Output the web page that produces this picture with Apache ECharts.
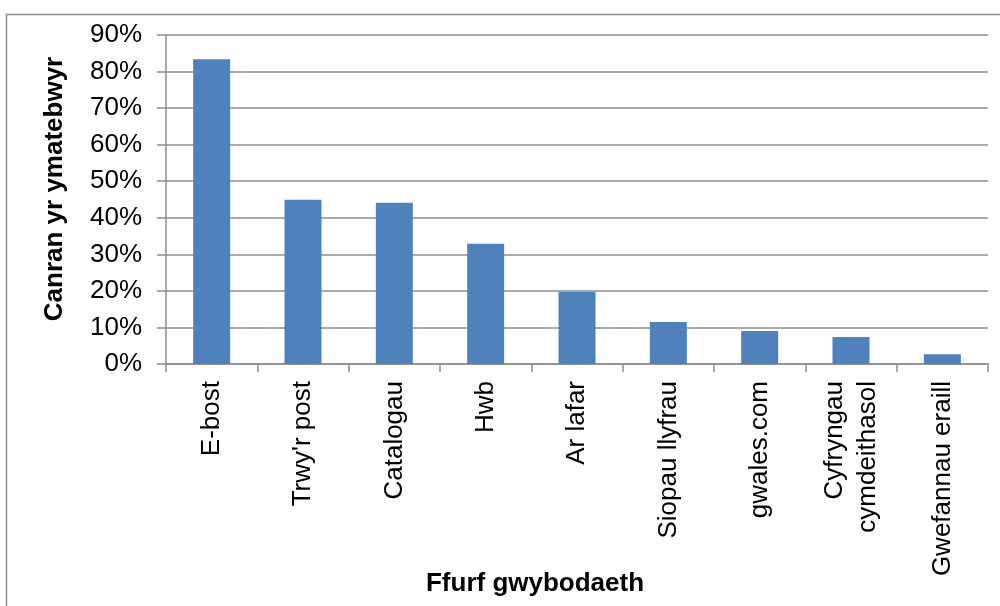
<!DOCTYPE html>
<html>
<head>
<meta charset="utf-8">
<script src="https://cdn.jsdelivr.net/npm/echarts@6/dist/echarts.min.js"></script>
<style>
  html, body { margin: 0; padding: 0; background: #fff; }
  #chart { width: 1000px; height: 606px; }
</style>
</head>
<body>
<div id="chart"></div>
<script>
// categories and values (percent of respondents)
const categories = ['E-bost', "Trwy'r post", 'Catalogau', 'Hwb', 'Ar lafar',
  'Siopau llyfrau', 'gwales.com', 'Cyfryngau\ncymdeithasol', 'Gwefannau eraill'];
const percentages = [83.4, 44.9, 44.1, 32.9, 19.7, 11.5, 9.0, 7.4, 2.7];
const yTicks = { min: 0, max: 90, interval: 10 };

const fontFamily = 'Liberation Sans, Arial, sans-serif';
const chart = echarts.init(document.getElementById('chart'));

const option = {
  animation: false,
  textStyle: { fontFamily: fontFamily },
  grid: {
    left: 166,
    right: 12,
    top: 35,
    bottom: 242,
    containLabel: false
  },
  graphic: [
    {
      // outer chart border (only left and top edges fall inside the picture)
      type: 'rect',
      shape: { x: 6.5, y: 14.5, width: 1100, height: 800 },
      style: { fill: 'none', stroke: '#8c8c8c', lineWidth: 1.5 }
    },
    {
      type: 'text',
      x: 55,
      y: 189,
      rotation: Math.PI / 2,
      style: {
        text: 'Canran yr ymatebwyr',
        font: 'bold 26px ' + fontFamily,
        fill: '#000',
        align: 'center',
        verticalAlign: 'middle'
      }
    },
    {
      type: 'text',
      x: 535,
      y: 584,
      style: {
        text: 'Ffurf gwybodaeth',
        font: 'bold 26px ' + fontFamily,
        fill: '#000',
        align: 'center',
        verticalAlign: 'middle'
      }
    }
  ],
  xAxis: {
    type: 'category',
    data: categories,
    axisLine: { lineStyle: { color: '#8c8c8c', width: 1.5 } },
    axisTick: { show: true, length: 8, lineStyle: { color: '#8c8c8c', width: 1.5 } },
    axisLabel: {
      rotate: 90,
      interval: 0,
      margin: 17,
      color: '#000',
      fontSize: 26,
      lineHeight: 33
    }
  },
  yAxis: {
    type: 'value',
    min: yTicks.min,
    max: yTicks.max,
    interval: yTicks.interval,
    axisLine: { show: true, lineStyle: { color: '#8c8c8c', width: 1.5 } },
    axisTick: { show: true, length: 9, lineStyle: { color: '#8c8c8c', width: 1.5 } },
    axisLabel: {
      formatter: '{value}%',
      color: '#000',
      fontSize: 26,
      margin: 24
    },
    splitLine: { lineStyle: { color: '#8c8c8c', width: 1.5 } }
  },
  series: [
    {
      type: 'bar',
      data: percentages,
      barWidth: 37,
      itemStyle: { color: '#4f81bd' }
    }
  ]
};

chart.setOption(option);
</script>
</body>
</html>
